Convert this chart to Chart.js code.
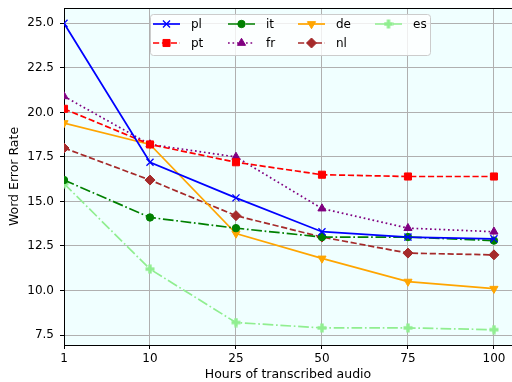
<!DOCTYPE html>
<html>
<head>
<meta charset="utf-8">
<script src="https://cdn.jsdelivr.net/npm/chart.js@4/dist/chart.umd.min.js"></script>
<style>
  body { margin: 0; background: #fff; }
  canvas { display: block; }
</style>
</head>
<body>
<canvas id="wer-chart" width="512" height="382"></canvas>
<script>
// hours of transcribed audio (evenly spaced categories)
const hours = ['1', '10', '25', '50', '75', '100'];
const yTicks = [7.5, 10, 12.5, 15, 17.5, 20, 22.5, 25];

// word error rate per language
const pl = [25.0, 17.2, 15.2, 13.3, 13.0, 12.9];
const pt = [20.2, 18.2, 17.2, 16.5, 16.4, 16.4];
const it = [16.2, 14.1, 13.5, 13.0, 13.0, 12.8];
const fr = [20.9, 18.2, 17.5, 14.6, 13.5, 13.3];
const de = [19.4, 18.2, 13.2, 11.8, 10.5, 10.1];
const nl = [18.0, 16.2, 14.2, 13.0, 12.1, 12.0];
const es = [16.0, 11.2, 8.2, 7.9, 7.9, 7.8];

const FONT = 'DejaVu Sans';
const LW = 1.7;

// filled plus marker (matplotlib 'P')
const plusMarker = (() => {
  const c = document.createElement('canvas');
  c.width = 10; c.height = 10;
  const g = c.getContext('2d');
  g.fillStyle = '#90ee90';
  g.fillRect(3.3, 0.5, 3.4, 9);
  g.fillRect(0.5, 3.3, 9, 3.4);
  return c;
})();

const toPts = arr => arr.map((v, i) => ({ x: i, y: v }));

const makeSet = (label, data, color, dash, style, radius, extra) => Object.assign({
  label: label,
  data: toPts(data),
  borderColor: color,
  backgroundColor: color,
  borderWidth: LW,
  borderDash: dash,
  pointStyle: style,
  pointRadius: radius,
  pointBorderWidth: 1,
  pointBackgroundColor: color,
  pointBorderColor: color,
  tension: 0,
}, extra || {});

const datasets = [
  makeSet('pl', pl, '#0000ff', [], 'crossRot', 5, { pointBorderWidth: 1.3 }),
  makeSet('pt', pt, '#ff0000', [6.2, 2.7], 'rect', 5),
  makeSet('it', it, '#008000', [10.7, 2.7, 1.7, 2.7], 'circle', 3.7),
  makeSet('fr', fr, '#800080', [1.7, 2.8], 'triangle', 4.7),
  makeSet('de', de, '#ffa500', [], 'triangle', 4.7, { pointRotation: 180 }),
  makeSet('nl', nl, '#a52a2a', [6.2, 2.7], 'rectRot', 5),
  makeSet('es', es, '#90ee90', [10.7, 2.7, 1.7, 2.7], plusMarker, 5),
];

const bgPlugin = {
  id: 'bg',
  beforeDraw(chart) {
    const { ctx, chartArea: a } = chart;
    ctx.save();
    ctx.fillStyle = '#f0ffff';
    ctx.fillRect(a.left, a.top, a.right - a.left, a.bottom - a.top);
    ctx.restore();
  },
  afterDraw(chart) {
    // top spine
    const { ctx, chartArea: a } = chart;
    ctx.save();
    ctx.strokeStyle = '#000';
    ctx.lineWidth = 1;
    ctx.beginPath();
    ctx.moveTo(a.left, a.top + 0.5);
    ctx.lineTo(a.right, a.top + 0.5);
    ctx.stroke();
    ctx.restore();
  }
};

// matplotlib style legend inside the axes, 4 columns x 2 rows
const legendPlugin = {
  id: 'mplLegend',
  afterDatasetsDraw(chart) {
    const ctx = chart.ctx;
    const cols = [153, 228, 298, 375];
    const rows = [24, 43];
    ctx.save();
    ctx.fillStyle = 'rgba(255,255,255,0.8)';
    ctx.strokeStyle = '#cccccc';
    ctx.lineWidth = 1;
    ctx.beginPath();
    ctx.roundRect(150.5, 14.5, 280, 41, 3);
    ctx.fill();
    ctx.stroke();
    chart.data.datasets.forEach((ds, i) => {
      const x0 = cols[Math.floor(i / 2)];
      const y = rows[i % 2];
      ctx.save();
      ctx.strokeStyle = ds.borderColor;
      ctx.lineWidth = ds.borderWidth;
      ctx.setLineDash(ds.borderDash);
      ctx.beginPath();
      ctx.moveTo(x0, y);
      ctx.lineTo(x0 + 27, y);
      ctx.stroke();
      ctx.setLineDash([]);
      ctx.fillStyle = ds.pointBackgroundColor;
      ctx.strokeStyle = ds.pointBorderColor;
      ctx.lineWidth = ds.pointBorderWidth;
      Chart.helpers.drawPoint(ctx, {
        pointStyle: ds.pointStyle,
        rotation: ds.pointRotation || 0,
        radius: ds.pointRadius,
        borderWidth: ds.pointBorderWidth,
      }, x0 + 13.5, y);
      ctx.restore();
      ctx.fillStyle = '#000';
      ctx.font = '12px "' + FONT + '"';
      ctx.textBaseline = 'middle';
      ctx.fillText(ds.label, x0 + 38, y + 1);
    });
    ctx.restore();
  }
};

new Chart(document.getElementById('wer-chart'), {
  type: 'line',
  data: { datasets: datasets },
  plugins: [bgPlugin, legendPlugin],
  options: {
    responsive: false,
    animation: false,
    layout: { autoPadding: false, padding: { left: 0, top: 8, right: 0, bottom: 0 } },
    plugins: { legend: { display: false }, tooltip: { enabled: false } },
    scales: {
      x: {
        type: 'linear',
        min: 0,
        max: 5.21,
        afterBuildTicks: s => { s.ticks = hours.map((h, i) => ({ value: i })); },
        afterFit: s => { s.height = 37; s.paddingLeft = 0; s.paddingRight = 0; },
        ticks: {
          color: '#000',
          font: { family: FONT, size: 12 },
          padding: 3,
          maxRotation: 0,
          callback: v => hours[v],
        },
        grid: { color: '#b0b0b0', lineWidth: 1, tickLength: 4, tickColor: '#000' },
        border: { color: '#000', width: 1 },
        title: {
          display: true,
          text: 'Hours of transcribed audio',
          color: '#000',
          font: { family: FONT, size: 12.5 },
          padding: { top: 0, bottom: 0 },
        },
      },
      y: {
        min: 6.94,
        max: 25.86,
        afterBuildTicks: s => { s.ticks = yTicks.map(v => ({ value: v })); },
        afterFit: s => { s.width = 64; s.paddingTop = 0; s.paddingBottom = 0; },
        ticks: {
          color: '#000',
          font: { family: FONT, size: 12 },
          padding: 6,
          callback: v => v.toFixed(1),
        },
        grid: { color: '#b0b0b0', lineWidth: 1, tickLength: 4, tickColor: '#000' },
        border: { color: '#000', width: 1 },
        title: {
          display: true,
          text: 'Word Error Rate',
          color: '#000',
          font: { family: FONT, size: 12.5 },
          padding: { top: 7, bottom: 0 },
        },
      },
    },
  },
});
</script>
</body>
</html>
